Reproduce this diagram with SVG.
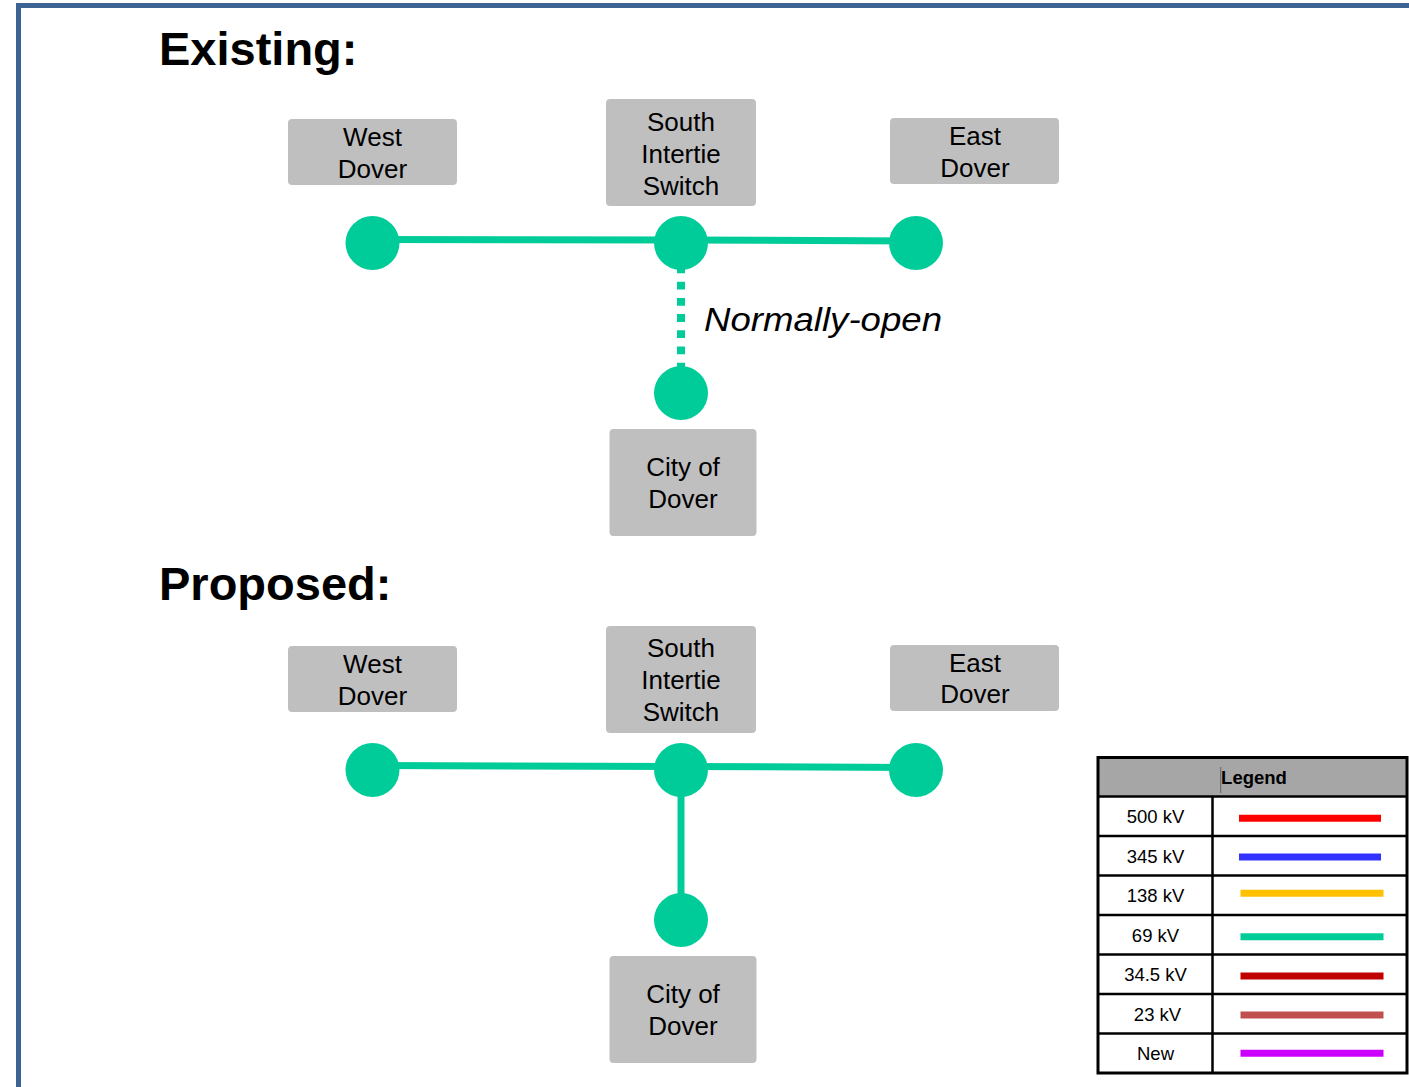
<svg xmlns="http://www.w3.org/2000/svg" width="1409" height="1087" viewBox="0 0 1409 1087">
<style>
.frame{fill:none;stroke:#3D6394;stroke-width:5}
.title{font-family:"Liberation Sans",Arial,sans-serif;font-weight:bold;font-size:47px;fill:#000}
.box{fill:#BFBFBF;stroke:#BFBFBF;stroke-width:1}
.lbl{font-family:"Liberation Sans",Arial,sans-serif;font-size:26px;fill:#000;text-anchor:middle}
.bus{fill:#00CC99}
.line{stroke:#00CC99;stroke-width:7;fill:none}
.dash{stroke:#00CC99;stroke-width:8;stroke-dasharray:7.8 8.4;fill:none}
.note{font-family:"Liberation Sans",Arial,sans-serif;font-style:italic;font-size:34px;fill:#000}
.lg-txt{font-family:"Liberation Sans",Arial,sans-serif;font-size:18.5px;fill:#000;text-anchor:middle}
.lg-hdr{font-family:"Liberation Sans",Arial,sans-serif;font-weight:bold;font-size:18.5px;fill:#000;text-anchor:middle}
.grid{stroke:#000;stroke-width:2.5;fill:none}
.sw{stroke-width:7;fill:none}
</style>
<rect x="0" y="0" width="1409" height="1087" fill="#FFFFFF"/>
<rect class="frame" x="18.5" y="5.5" width="1500" height="1200"/>

<text class="title" x="159" y="65">Existing:</text>
<text class="title" x="159" y="600">Proposed:</text>

<g id="connectors">
  <line class="line" x1="372" y1="239.5" x2="681" y2="240"/>
  <line class="line" x1="681" y1="240" x2="916" y2="241"/>
  <line class="dash" x1="681" y1="265.5" x2="681" y2="372"/>
  <line class="line" x1="372" y1="765.5" x2="681" y2="766.5"/>
  <line class="line" x1="681" y1="766.5" x2="916" y2="767.5"/>
  <line class="line" x1="681" y1="770" x2="681" y2="920"/>
</g>
<text class="note" x="704" y="331" textLength="238" lengthAdjust="spacingAndGlyphs">Normally-open</text>

<g id="ex-west-dover">
  <rect class="box" x="288.5" y="119.5" width="168" height="65" rx="3"/>
  <text class="lbl" x="372.5" y="146">West</text>
  <text class="lbl" x="372.5" y="178">Dover</text>
  <circle class="bus" cx="372.5" cy="243" r="27"/>
</g>
<g id="ex-south-intertie">
  <rect class="box" x="606.5" y="99.5" width="149" height="106" rx="3"/>
  <text class="lbl" x="681" y="131">South</text>
  <text class="lbl" x="681" y="163">Intertie</text>
  <text class="lbl" x="681" y="195">Switch</text>
  <circle class="bus" cx="681" cy="243" r="27"/>
</g>
<g id="ex-east-dover">
  <rect class="box" x="890.5" y="118.5" width="168" height="65" rx="3"/>
  <text class="lbl" x="975" y="145">East</text>
  <text class="lbl" x="975" y="177">Dover</text>
  <circle class="bus" cx="916" cy="243" r="27"/>
</g>
<g id="ex-city-dover">
  <circle class="bus" cx="681" cy="393" r="27"/>
  <rect class="box" x="610" y="429.5" width="146" height="106" rx="3"/>
  <text class="lbl" x="683" y="476">City of</text>
  <text class="lbl" x="683" y="508">Dover</text>
</g>

<g id="pr-west-dover">
  <rect class="box" x="288.5" y="646.5" width="168" height="65" rx="3"/>
  <text class="lbl" x="372.5" y="673">West</text>
  <text class="lbl" x="372.5" y="705">Dover</text>
  <circle class="bus" cx="372.5" cy="770" r="27"/>
</g>
<g id="pr-south-intertie">
  <rect class="box" x="606.5" y="626.5" width="149" height="106" rx="3"/>
  <text class="lbl" x="681" y="657">South</text>
  <text class="lbl" x="681" y="689">Intertie</text>
  <text class="lbl" x="681" y="721">Switch</text>
  <circle class="bus" cx="681" cy="770" r="27"/>
</g>
<g id="pr-east-dover">
  <rect class="box" x="890.5" y="645.5" width="168" height="65" rx="3"/>
  <text class="lbl" x="975" y="672">East</text>
  <text class="lbl" x="975" y="703">Dover</text>
  <circle class="bus" cx="916" cy="770" r="27"/>
</g>
<g id="pr-city-dover">
  <circle class="bus" cx="681" cy="920" r="27"/>
  <rect class="box" x="610" y="956.5" width="146" height="106" rx="3"/>
  <text class="lbl" x="683" y="1003">City of</text>
  <text class="lbl" x="683" y="1035">Dover</text>
</g>

<g id="legend">
  <rect x="1098" y="757.5" width="309" height="39" fill="#A6A6A6"/>
  <line x1="1220.7" y1="767" x2="1220.7" y2="793" stroke="#666" stroke-width="1"/>
  <text class="lg-hdr" x="1254" y="783.5">Legend</text>
  <rect x="1098" y="757.5" width="309" height="315.5" fill="none" stroke="#000" stroke-width="3"/>
  <line class="grid" x1="1098" y1="796.5" x2="1407" y2="796.5"/>
  <line class="grid" x1="1098" y1="836" x2="1407" y2="836"/>
  <line class="grid" x1="1098" y1="875.5" x2="1407" y2="875.5"/>
  <line class="grid" x1="1098" y1="915" x2="1407" y2="915"/>
  <line class="grid" x1="1098" y1="954.5" x2="1407" y2="954.5"/>
  <line class="grid" x1="1098" y1="994" x2="1407" y2="994"/>
  <line class="grid" x1="1098" y1="1033.5" x2="1407" y2="1033.5"/>
  <line class="grid" x1="1212.5" y1="796.5" x2="1212.5" y2="1073"/>
  <text class="lg-txt" x="1155.5" y="823">500 kV</text>
  <text class="lg-txt" x="1155.5" y="862.5">345 kV</text>
  <text class="lg-txt" x="1155.5" y="902">138 kV</text>
  <text class="lg-txt" x="1155.5" y="941.5">69 kV</text>
  <text class="lg-txt" x="1155.5" y="981">34.5 kV</text>
  <text class="lg-txt" x="1157.5" y="1020.5">23 kV</text>
  <text class="lg-txt" x="1155.5" y="1060">New</text>
  <line class="sw" x1="1239" y1="818.3" x2="1381" y2="818.3" stroke="#FF0000"/>
  <line class="sw" x1="1239" y1="857" x2="1381" y2="857" stroke="#3333FF"/>
  <line class="sw" x1="1240.5" y1="893.3" x2="1383.5" y2="893.3" stroke="#FFC000"/>
  <line class="sw" x1="1240.5" y1="936.7" x2="1383.5" y2="936.7" stroke="#00CC99"/>
  <line class="sw" x1="1240.5" y1="976" x2="1383.5" y2="976" stroke="#C00000"/>
  <line class="sw" x1="1240.5" y1="1015" x2="1383.5" y2="1015" stroke="#C0504D"/>
  <line class="sw" x1="1240.5" y1="1053.3" x2="1383.5" y2="1053.3" stroke="#CC00FF"/>
</g>
</svg>
